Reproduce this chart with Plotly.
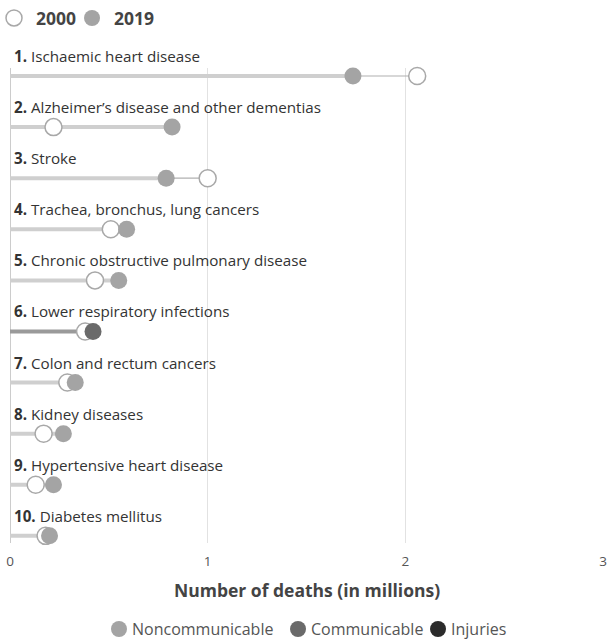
import plotly.graph_objects as go

causes = [
    "Ischaemic heart disease",
    "Alzheimer\u2019s disease and other dementias",
    "Stroke",
    "Trachea, bronchus, lung cancers",
    "Chronic obstructive pulmonary disease",
    "Lower respiratory infections",
    "Colon and rectum cancers",
    "Kidney diseases",
    "Hypertensive heart disease",
    "Diabetes mellitus",
]
deaths_2000 = [2.06, 0.22, 1.00, 0.51, 0.43, 0.38, 0.29, 0.17, 0.13, 0.18]
deaths_2019 = [1.735, 0.82, 0.79, 0.59, 0.55, 0.42, 0.33, 0.27, 0.22, 0.20]
category = ["Noncommunicable", "Noncommunicable", "Noncommunicable", "Noncommunicable",
            "Noncommunicable", "Communicable", "Noncommunicable", "Noncommunicable",
            "Noncommunicable", "Noncommunicable"]
years = ["2000", "2019"]
x_ticks = [0, 1, 2, 3]
categories = ["Noncommunicable", "Communicable", "Injuries"]

cat_color = {"Noncommunicable": "#a4a4a4", "Communicable": "#6a6a6a", "Injuries": "#2b2b2b"}
bar_color = {"Noncommunicable": "#cfcfcf", "Communicable": "#9a9a9a", "Injuries": "#555555"}

rows = list(range(len(causes)))
FONT = "Open Sans"

fig = go.Figure()

# thin connector from 0 to 2000 value
xs, ys = [], []
for i in rows:
    xs += [0, deaths_2000[i], None]
    ys += [i, i, None]
fig.add_trace(go.Scatter(x=xs, y=ys, mode="lines", line=dict(color="#b0b0b0", width=1.2),
                         hoverinfo="skip", showlegend=False, cliponaxis=False))

# thick bar from 0 to 2019 value by category
for c in categories:
    xs, ys = [], []
    for i in rows:
        if category[i] == c:
            xs += [0, deaths_2019[i], None]
            ys += [i, i, None]
    if xs:
        fig.add_trace(go.Scatter(x=xs, y=ys, mode="lines", line=dict(color=bar_color[c], width=4),
                                 hoverinfo="skip", showlegend=False, cliponaxis=False))

# 2000 markers
fig.add_trace(go.Scatter(x=deaths_2000, y=rows, mode="markers",
                         marker=dict(size=17, color="white", line=dict(color="#a8a8a8", width=1.5)),
                         showlegend=False, cliponaxis=False, name="2000"))
# 2019 markers
fig.add_trace(go.Scatter(x=deaths_2019, y=rows, mode="markers",
                         marker=dict(size=17, color=[cat_color[c] for c in category], line=dict(width=0)),
                         showlegend=False, cliponaxis=False, name="2019"))

# row labels
for i in rows:
    fig.add_annotation(x=0, y=i, xref="x", yref="y", text=f"<b>{i+1}.</b> {causes[i]}",
                       showarrow=False, xanchor="left", yanchor="middle", xshift=2, yshift=20,
                       font=dict(family=FONT, size=15.2, color="#333333"))

# axis title
fig.add_annotation(x=0.5, y=-0.099, xref="paper", yref="paper", text="<b>Number of deaths (in millions)</b>",
                   showarrow=False, xanchor="center", yanchor="middle",
                   font=dict(family=FONT, size=17.5, color="#444444"))

# top year key
year_key_x = [0.00675, 0.1383]
year_key_y = 1.1053
year_fill = ["white", "#a4a4a4"]
year_line = [dict(color="#a8a8a8", width=1.5), dict(width=0)]
for yr, kx, fc, ln in zip(years, year_key_x, year_fill, year_line):
    fig.add_shape(type="circle", xref="paper", yref="paper", xsizemode="pixel", ysizemode="pixel",
                  xanchor=kx, yanchor=year_key_y, x0=-8, x1=8, y0=-8, y1=8,
                  fillcolor=fc, line=ln)
    fig.add_annotation(x=kx, y=year_key_y, xref="paper", yref="paper", text=f"<b>{yr}</b>",
                       showarrow=False, xanchor="left", yanchor="middle", xshift=21, borderpad=0,
                       font=dict(family=FONT, size=17.5, color="#444444"))

# bottom category key (circle + label)
key_x = [0.1838, 0.4857, 0.7218]
key_y = -0.1811
for c, kx in zip(categories, key_x):
    fig.add_shape(type="circle", xref="paper", yref="paper", xsizemode="pixel", ysizemode="pixel",
                  xanchor=kx, yanchor=key_y, x0=-8, x1=8, y0=-8, y1=8,
                  fillcolor=cat_color[c], line=dict(width=0))
    fig.add_annotation(x=kx, y=key_y, xref="paper", yref="paper", text=c, showarrow=False,
                       xanchor="left", yanchor="middle", xshift=12, borderpad=0,
                       font=dict(family=FONT, size=16, color="#555555"))

fig.update_layout(
    width=610, height=642,
    margin=dict(l=10, r=7, t=68, b=99, autoexpand=False),
    paper_bgcolor="white", plot_bgcolor="white",
    font=dict(family=FONT, size=13, color="#555555"),
    showlegend=False,
    xaxis=dict(range=[0, 3], tickvals=x_ticks, showgrid=True, gridcolor="#e2e2e2", gridwidth=1,
               zeroline=True, zerolinecolor="#cccccc", zerolinewidth=1, showline=False, automargin=False,
               ticks="", ticklabelstandoff=8, tickfont=dict(size=13.5, color="#555555"), fixedrange=True),
    yaxis=dict(range=[9.14, -0.157], visible=False, showgrid=False, zeroline=False, fixedrange=True,
               automargin=False),
    hovermode=False,
)

fig.write_html("out.html", config={"displayModeBar": False},
               post_script="document.body.style.margin='0';")
